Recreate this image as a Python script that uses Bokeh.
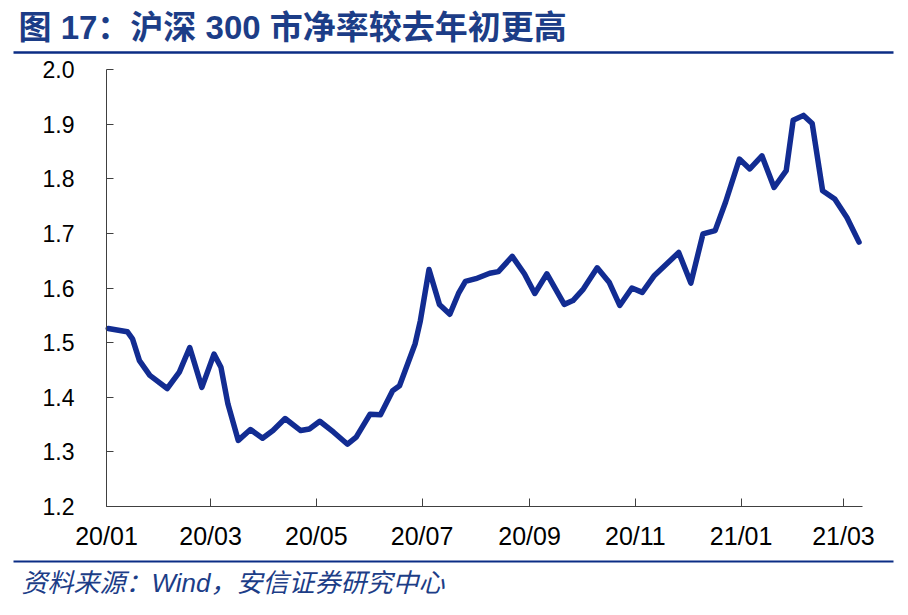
import pandas as pd
from bokeh.plotting import figure
from bokeh.models import Range1d, FixedTicker, ColumnDataSource, Label, BoxAnnotation
from bokeh.embed import file_html
from bokeh.resources import INLINE

# ---- data ----
dates = [
    "2020-01-02", "2020-01-13", "2020-01-16", "2020-01-20", "2020-01-26", "2020-02-05",
    "2020-02-12", "2020-02-18", "2020-02-25", "2020-03-03", "2020-03-07", "2020-03-11",
    "2020-03-17", "2020-03-24", "2020-03-31", "2020-04-06", "2020-04-13", "2020-04-22",
    "2020-04-27", "2020-05-03", "2020-05-11", "2020-05-19", "2020-05-24", "2020-06-01",
    "2020-06-07", "2020-06-14", "2020-06-18", "2020-06-27", "2020-06-30", "2020-07-05",
    "2020-07-11", "2020-07-17", "2020-07-22", "2020-07-26", "2020-08-01", "2020-08-09",
    "2020-08-14", "2020-08-22", "2020-08-29", "2020-09-04", "2020-09-11", "2020-09-21",
    "2020-09-26", "2020-10-02", "2020-10-10", "2020-10-17", "2020-10-23", "2020-10-30",
    "2020-11-05", "2020-11-12", "2020-11-19", "2020-11-26", "2020-12-03", "2020-12-10",
    "2020-12-17", "2020-12-23", "2020-12-31", "2021-01-06", "2021-01-13", "2021-01-20",
    "2021-01-27", "2021-01-31", "2021-02-06", "2021-02-11", "2021-02-17", "2021-02-24",
    "2021-03-03", "2021-03-10",
]
pb = [
    1.526, 1.520, 1.507, 1.467, 1.440, 1.416,
    1.446, 1.491, 1.418, 1.479, 1.455, 1.388,
    1.321, 1.341, 1.325, 1.339, 1.361, 1.339,
    1.342, 1.356, 1.336, 1.314, 1.327, 1.369,
    1.368, 1.412, 1.421, 1.498, 1.540, 1.634,
    1.570, 1.552, 1.590, 1.612, 1.617, 1.627,
    1.630, 1.658, 1.626, 1.590, 1.626, 1.570,
    1.577, 1.598, 1.637, 1.610, 1.568, 1.600,
    1.592, 1.623, 1.644, 1.665, 1.609, 1.699,
    1.705, 1.757, 1.836, 1.818, 1.842, 1.784,
    1.815, 1.907, 1.916, 1.901, 1.778, 1.763,
    1.729, 1.684,
]
tick_dates = ["2020-01-01", "2020-03-01", "2020-05-01", "2020-07-01",
              "2020-09-01", "2020-11-01", "2021-01-01", "2021-03-01"]
tick_labels = ["20/01", "20/03", "20/05", "20/07", "20/09", "20/11", "21/01", "21/03"]
y_ticks = [1.2, 1.3, 1.4, 1.5, 1.6, 1.7, 1.8, 1.9, 2.0]
x_start_date, x_end_date = "2020-01-01", "2021-03-12"
y_min, y_max = 1.2, 2.0

title_text = "图 17：沪深 300 市净率较去年初更高"
source_text = "资料来源：Wind，安信证券研究中心"

origin = pd.Timestamp("2020-01-01")
xd = [int((pd.Timestamp(d) - origin).days) for d in dates]
xt = [int((pd.Timestamp(d) - origin).days) for d in tick_dates]
x0 = int((pd.Timestamp(x_start_date) - origin).days)
x1 = int((pd.Timestamp(x_end_date) - origin).days)

NAVY = "#1C3D87"
RULE = "#0B2D85"
LINE = "#122C92"
LATIN = "Liberation Sans, Arial, Noto Sans CJK SC, sans-serif"
CJK = "Liberation Sans, Noto Sans CJK SC, sans-serif"
W, H = 900, 607
# plot area in page pixels
PL, PR, PT, PB = 106, 862, 69, 506

# the frame fills the whole canvas; extend ranges so the plot area lands at PL..PR / PT..PB
kx = (x1 - x0) / (PR - PL)
ky = (y_max - y_min) / (PB - PT)
p = figure(width=W, height=H,
           x_range=Range1d(x0 - PL * kx, x1 + (W - PR) * kx),
           y_range=Range1d(y_min - (H - PB) * ky, y_max + PT * ky),
           output_backend="svg", toolbar_location=None,
           min_border=0, min_border_left=0, min_border_right=0,
           min_border_top=0, min_border_bottom=0)
p.outline_line_color = None
p.grid.visible = False
p.background_fill_color = "white"
src = ColumnDataSource(dict(x=xd, y=pb))
p.line("x", "y", source=src, line_color=LINE, line_width=5.5,
       line_join="round", line_cap="round")

xa, ya = p.xaxis[0], p.yaxis[0]
xa.fixed_location = y_min
ya.fixed_location = x0
xa.bounds = (x0, x1)
ya.bounds = (y_min, y_max)
xa.ticker = FixedTicker(ticks=xt)
xa.major_label_overrides = {t: l for t, l in zip(xt, tick_labels)}
ya.ticker = FixedTicker(ticks=y_ticks)
ya.major_label_overrides = {t: f"{t:.1f}" for t in y_ticks}
for ax in (xa, ya):
    ax.axis_line_color = "#404040"
    ax.axis_line_width = 1
    ax.major_tick_line_color = "#404040"
    ax.major_tick_out = 0
    ax.minor_tick_line_color = None
    ax.major_label_text_font = LATIN
    ax.major_label_text_color = "black"
xa.major_tick_in = 8
ya.major_tick_in = 7
xa.major_label_text_font_size = "25px"
ya.major_label_text_font_size = "23px"
xa.major_label_standoff = 15
ya.major_label_standoff = 32


def sy(py):
    return H - py


# title, source and rules (screen units, frame == canvas)
p.add_layout(Label(x=18, y=sy(27), x_units="screen", y_units="screen",
                   text=title_text, text_font=CJK, text_font_size="33px",
                   text_font_style="bold", text_color=NAVY,
                   text_baseline="middle", text_align="left"))
for top, bot in ((50.8, 53.3), (560, 562)):
    p.add_layout(BoxAnnotation(left=13, right=893, top=sy(top), bottom=sy(bot),
                               left_units="screen", right_units="screen",
                               top_units="screen", bottom_units="screen",
                               fill_color=RULE, fill_alpha=1, line_color=None))
p.add_layout(Label(x=21, y=sy(582), x_units="screen", y_units="screen",
                   text=source_text, text_font=CJK, text_font_size="26px",
                   text_font_style="italic", text_color=NAVY,
                   text_baseline="middle", text_align="left"))

open("out.html", "w").write(file_html(p, INLINE))
